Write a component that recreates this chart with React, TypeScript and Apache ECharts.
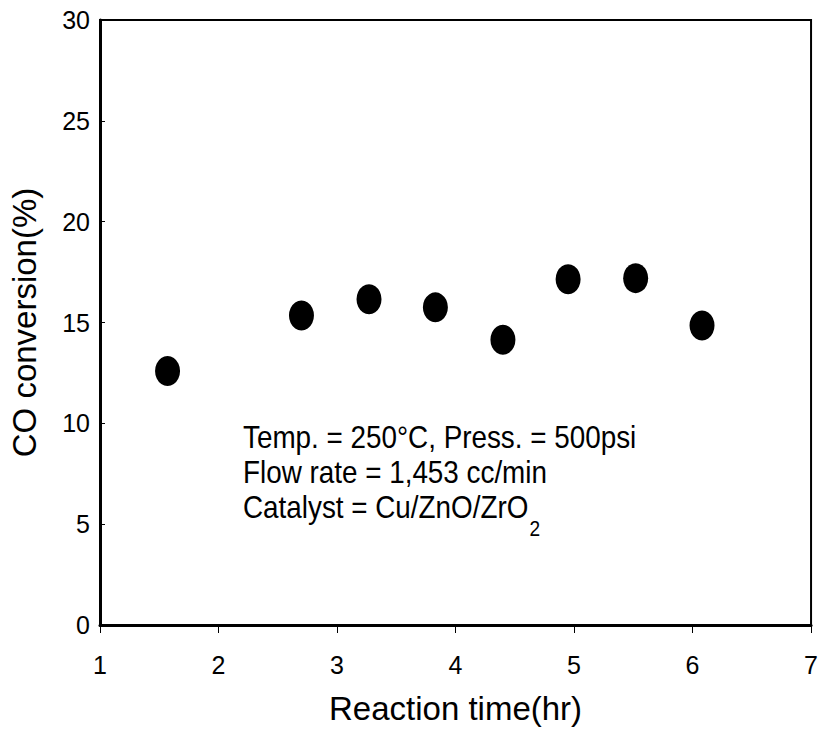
import React, { useEffect, useRef } from "react";
import * as echarts from "echarts";

const reactionTime = [1.57, 2.7, 3.27, 3.83, 4.4, 4.95, 5.52, 6.08];
const coConversion = [12.6, 15.35, 16.15, 15.75, 14.15, 17.15, 17.2, 14.85];
const annotationLines = [
  "Temp. = 250°C, Press. = 500psi",
  "Flow rate = 1,453 cc/min",
  "Catalyst = Cu/ZnO/ZrO",
];
const catalystSub = "2";

const FONT = "'Liberation Sans', Arial, sans-serif";
const NOTE_SIZE = 32;
const NOTE_SCALE = 0.87;

function measure(text: string, size: number): number {
  const c = document.createElement("canvas").getContext("2d");
  if (!c) return text.length * size * 0.5;
  c.font = `${size}px 'Liberation Sans', Arial, sans-serif`;
  return c.measureText(text).width;
}

export default function App() {
  const ref = useRef<HTMLDivElement>(null);
  useEffect(() => {
    if (!ref.current) return;
    const chart = echarts.init(ref.current, undefined, { renderer: "svg" });
    const lastW = measure(annotationLines[2], NOTE_SIZE) * NOTE_SCALE;
    chart.setOption({
      animation: false,
      backgroundColor: "#ffffff",
      grid: {
        left: 98,
        right: 7,
        top: 20,
        bottom: 112,
        show: true,
        borderColor: "#000",
        borderWidth: 2,
        backgroundColor: "transparent",
      },
      xAxis: {
        type: "value",
        min: 1,
        max: 7,
        interval: 1,
        name: "Reaction time(hr)",
        nameLocation: "middle",
        nameGap: 67,
        nameTextStyle: { fontFamily: FONT, fontSize: 33, color: "#000" },
        axisLine: { show: true, lineStyle: { color: "#000", width: 3 } },
        axisTick: { show: true, inside: false, length: 8, lineStyle: { color: "#000", width: 1 } },
        axisLabel: { fontFamily: FONT, fontSize: 25, color: "#000", margin: 27 },
        splitLine: { show: false },
      },
      yAxis: {
        type: "value",
        min: 0,
        max: 30,
        interval: 5,
        name: "CO conversion(%)",
        nameLocation: "middle",
        nameGap: 59,
        nameTextStyle: { fontFamily: FONT, fontSize: 33, color: "#000" },
        axisLine: { show: true, lineStyle: { color: "#000", width: 3 } },
        axisTick: { show: true, inside: true, length: 5, lineStyle: { color: "#000", width: 1 } },
        axisLabel: { fontFamily: FONT, fontSize: 25, color: "#000", margin: 10 },
        splitLine: { show: false },
      },
      series: [
        {
          type: "scatter",
          data: reactionTime.map((t, i) => [t, coConversion[i]]),
          symbol: "circle",
          symbolSize: [25, 30],
          itemStyle: { color: "#000", opacity: 1 },
          emphasis: { disabled: true },
        },
      ],
      graphic: [
        {
          type: "group",
          left: 243,
          top: 421,
          children: [
            ...annotationLines.map((line, i) => ({
              type: "text",
              x: 0,
              y: i * 35,
              scaleX: NOTE_SCALE,
              style: {
                text: line,
                fontFamily: FONT,
                fontSize: NOTE_SIZE,
                fill: "#000",
                textVerticalAlign: "top",
              },
            })),
            {
              type: "text",
              x: lastW + 1,
              y: 96,
              scaleX: NOTE_SCALE,
              style: {
                text: catalystSub,
                fontFamily: FONT,
                fontSize: 22,
                fill: "#000",
                textVerticalAlign: "top",
              },
            },
          ],
        },
      ],
    });
    return () => chart.dispose();
  }, []);
  return (
    <div
      ref={ref}
      style={{ position: "absolute", left: 0, top: 0, width: 821, height: 737 }}
    />
  );
}
